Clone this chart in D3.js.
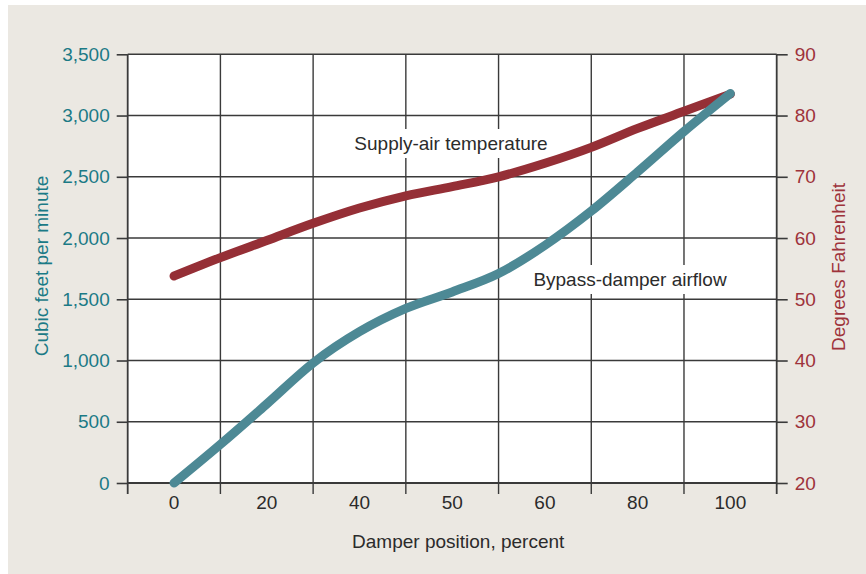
<!DOCTYPE html>
<html>
<head>
<meta charset="utf-8">
<script src="https://cdn.jsdelivr.net/npm/d3@7"></script>
<style>
  html, body { margin: 0; padding: 0; background: #fff; }
  svg { display: block; font-family: 'Liberation Sans', Arial, sans-serif; }
</style>
</head>
<body>
<div id="chart"></div>
<script>
// damper positions shown under each column
var positions = ['0', '20', '40', '50', '60', '80', '100'];
// readings taken at each column centre and each gridline (step index 0, 0.5, ... 6)
var steps = [0, 0.5, 1, 1.5, 2, 2.5, 3, 3.5, 4, 4.5, 5, 5.5, 6];
var airflow = [0, 315, 645, 980, 1235, 1425, 1560, 1710, 1940, 2220, 2540, 2870, 3180];
var temperature = [53.8, 56.8, 59.6, 62.4, 64.9, 66.9, 68.4, 70.0, 72.2, 74.8, 77.9, 80.7, 83.5];
var cfmTicks = [0, 500, 1000, 1500, 2000, 2500, 3000, 3500];
var degTicks = [20, 30, 40, 50, 60, 70, 80, 90];
var lineLabels = ['Supply-air temperature', 'Bypass-damper airflow'];

var W = 866, H = 574;
var plotL = 127.7, plotR = 776.7, plotT = 54.3, plotB = 483;
var teal = '#4d8995', tealText = '#1b7a86', red = '#952f36', redText = '#9e333b', grid = '#3a3a3a';

var svg = d3.select('#chart').append('svg')
  .attr('width', W)
  .attr('height', H);

svg.append('rect')
  .attr('x', 8).attr('y', 5)
  .attr('width', W - 8).attr('height', H - 5)
  .attr('fill', '#ebe8e2');

svg.append('rect')
  .attr('x', plotL).attr('y', plotT)
  .attr('width', plotR - plotL).attr('height', plotB - plotT)
  .attr('fill', '#fff');

var x = d3.scaleBand()
  .domain(positions)
  .range([plotL, plotR])
  .padding(0);

var xStep = d3.scaleLinear()
  .domain([-0.5, positions.length - 0.5])
  .range([plotL, plotR]);

var yCfm = d3.scaleLinear()
  .domain([0, 3500])
  .range([plotB, plotT]);

var yDeg = d3.scaleLinear()
  .domain([20, 90])
  .range([plotB, plotT]);

// horizontal gridlines
svg.append('g')
  .selectAll('line')
  .data(cfmTicks)
  .enter().append('line')
    .attr('x1', plotL).attr('x2', plotR)
    .attr('y1', function(d) { return yCfm(d); })
    .attr('y2', function(d) { return yCfm(d); })
    .attr('stroke', grid)
    .attr('stroke-width', function(d) { return d === 0 ? 2.2 : 1.4; });

// vertical gridlines at column edges, with ticks below the plot
var edges = positions.map(function(p) { return x(p); }).concat([plotR]);
svg.append('g')
  .selectAll('line')
  .data(edges)
  .enter().append('line')
    .attr('x1', function(d) { return d; })
    .attr('x2', function(d) { return d; })
    .attr('y1', plotT)
    .attr('y2', plotB + 11)
    .attr('stroke', grid)
    .attr('stroke-width', function(d, i) { return (i === 0 || i === edges.length - 1) ? 1.8 : 1.4; });

// left axis
var leftAxis = svg.append('g')
  .attr('transform', 'translate(' + plotL + ',0)')
  .call(d3.axisLeft(yCfm).tickValues(cfmTicks).tickFormat(d3.format(',')).tickSize(11).tickPadding(7));
leftAxis.select('.domain').remove();
leftAxis.selectAll('line').attr('stroke', grid).attr('stroke-width', 1.6);
leftAxis.selectAll('text')
  .attr('fill', tealText)
  .style('font-size', '19px')
  .style('font-family', "'Liberation Sans', Arial, sans-serif");

// right axis
var rightAxis = svg.append('g')
  .attr('transform', 'translate(' + plotR + ',0)')
  .call(d3.axisRight(yDeg).tickValues(degTicks).tickSize(11).tickPadding(7));
rightAxis.select('.domain').remove();
rightAxis.selectAll('line').attr('stroke', grid).attr('stroke-width', 1.6);
rightAxis.selectAll('text')
  .attr('fill', redText)
  .style('font-size', '19px')
  .style('font-family', "'Liberation Sans', Arial, sans-serif");

// bottom labels
var bottomAxis = svg.append('g')
  .attr('transform', 'translate(0,' + plotB + ')')
  .call(d3.axisBottom(x).tickSize(0).tickPadding(13));
bottomAxis.select('.domain').remove();
bottomAxis.selectAll('text')
  .attr('fill', '#2b2b2b')
  .style('font-size', '19px')
  .style('font-family', "'Liberation Sans', Arial, sans-serif");

// axis titles
svg.append('text')
  .attr('x', (plotL + plotR) / 2 + 6)
  .attr('y', 548)
  .attr('text-anchor', 'middle')
  .attr('fill', '#2b2b2b')
  .style('font-size', '19px')
  .text('Damper position, percent');

svg.append('text')
  .attr('transform', 'translate(48,266) rotate(-90)')
  .attr('text-anchor', 'middle')
  .attr('fill', tealText)
  .style('font-size', '19px')
  .text('Cubic feet per minute');

svg.append('text')
  .attr('transform', 'translate(845,267) rotate(-90)')
  .attr('text-anchor', 'middle')
  .attr('fill', redText)
  .style('font-size', '19px')
  .text('Degrees Fahrenheit');

// line labels sit on a white patch that hides the grid
var labelPos = [[451, 150], [630, 286]];
var labelG = svg.append('g');
lineLabels.forEach(function(txt, i) {
  var g = labelG.append('g');
  var t = g.append('text')
    .attr('x', labelPos[i][0])
    .attr('y', labelPos[i][1])
    .attr('text-anchor', 'middle')
    .attr('fill', '#2b2b2b')
    .style('font-size', '19px')
    .text(txt);
  var bb = t.node().getBBox();
  g.insert('rect', 'text')
    .attr('x', bb.x - 3)
    .attr('y', bb.y - 4)
    .attr('width', bb.width + 6)
    .attr('height', bb.height + 8)
    .attr('fill', '#fff');
});

// lines
var cfmLine = d3.line()
  .x(function(d, i) { return xStep(steps[i]); })
  .y(function(d) { return yCfm(d); })
  .curve(d3.curveMonotoneX);

var degLine = d3.line()
  .x(function(d, i) { return xStep(steps[i]); })
  .y(function(d) { return yDeg(d); })
  .curve(d3.curveMonotoneX);

svg.append('path')
  .datum(temperature)
  .attr('d', degLine)
  .attr('fill', 'none')
  .attr('stroke', red)
  .attr('stroke-width', 9)
  .attr('stroke-linecap', 'round');

svg.append('path')
  .datum(airflow)
  .attr('d', cfmLine)
  .attr('fill', 'none')
  .attr('stroke', teal)
  .attr('stroke-width', 9)
  .attr('stroke-linecap', 'round');
</script>
</body>
</html>
